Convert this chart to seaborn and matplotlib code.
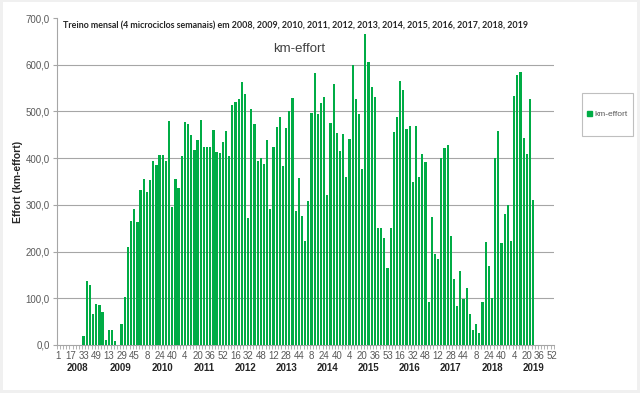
# Treino mensal - km-effort per 4-week block, 2008-2019
import numpy as np
import pandas as pd
import matplotlib
matplotlib.use("Agg")
import matplotlib.pyplot as plt
import seaborn as sns
from matplotlib.patches import Patch, Rectangle

# ---------- DATA ----------
years = [2008, 2009, 2010, 2011, 2012, 2013, 2014, 2015, 2016, 2017, 2018, 2019]

weeks_2008 = [1, 5, 9, 13, 17, 21, 25, 29, 33, 37, 41, 45, 49]
weeks_2009 = [1, 5, 9, 13, 17, 21, 25, 29, 33, 37, 41, 45, 49, 53]
weeks_2015 = [4, 8, 12, 16, 20, 24, 28, 32, 36, 40, 44, 48, 53]
weeks_std = [4, 8, 12, 16, 20, 24, 28, 32, 36, 40, 44, 48, 52]

effort_2008 = [0, 0, 0, 0, 0, 0, 0, 0, 19, 136, 129, 66, 87]
effort_2009 = [86, 70, 10, 32, 32, 9, 0, 46, 103, 209, 266, 291, 264, 332]
effort_2010 = [356, 328, 353, 393, 386, 407, 407, 394, 480, 296, 355, 336, 405]
effort_2011 = [478, 474, 450, 418, 438, 482, 424, 423, 424, 461, 414, 412, 434]
effort_2012 = [459, 405, 513, 521, 526, 563, 538, 271, 506, 474, 393, 400, 388]
effort_2013 = [439, 291, 424, 466, 489, 384, 464, 500, 529, 286, 357, 276, 223]
effort_2014 = [309, 496, 582, 495, 519, 530, 321, 475, 559, 454, 416, 452, 359]
effort_2015 = [441, 600, 526, 494, 376, 666, 606, 552, 531, 251, 251, 229, 164]
effort_2016 = [250, 455, 489, 566, 546, 462, 469, 350, 468, 359, 409, 391, 91]
effort_2017 = [275, 194, 184, 401, 421, 429, 234, 141, 84, 159, 99, 122, 67]
effort_2018 = [32, 44, 26, 93, 221, 169, 100, 400, 459, 218, 280, 300, 223]
effort_2019 = [534, 577, 584, 443, 409, 526, 310, 0, 0, 0, 0, 0, 0]

week_lists = [weeks_2008, weeks_2009] + [weeks_std] * 5 + [weeks_2015] + [weeks_std] * 4
effort_lists = [effort_2008, effort_2009, effort_2010, effort_2011, effort_2012,
                effort_2013, effort_2014, effort_2015, effort_2016, effort_2017,
                effort_2018, effort_2019]

rows = []
for yr, wk, ef in zip(years, week_lists, effort_lists):
    for w, v in zip(wk, ef):
        rows.append({"cat": f"{yr}-{w}", "year": yr, "week": w, "effort": v})
df = pd.DataFrame(rows)

BAR_COLOR = "#00AC45"

# ---------- PLOT ----------
sns.set_theme(style="white")
plt.rcParams["font.family"] = ["Liberation Sans", "DejaVu Sans"]

fig = plt.figure(figsize=(6.4, 3.93), dpi=100)
fig.patch.set_facecolor("#f0f0f0")
fig.add_artist(Rectangle((3 / 640, 3 / 393), 634 / 640, 388 / 393,
                         transform=fig.transFigure, facecolor="white",
                         edgecolor="none", zorder=-10))

ax = fig.add_axes([56.7 / 640, 1 - 345 / 393, 497 / 640, 327 / 393])
ax.set_facecolor("none")

sns.barplot(data=df, x="cat", y="effort", color=BAR_COLOR, saturation=1,
            width=0.7, linewidth=0, ax=ax, zorder=3)
for p in ax.patches:
    p.set_antialiased(False)

n = len(df)
ax.set_xlim(-0.5, n - 0.5)
ax.set_ylim(0, 700)

# y axis
ax.set_yticks(np.arange(0, 701, 100))
ax.set_yticklabels([f"{v:.1f}".replace(".", ",") for v in np.arange(0, 701, 100)],
                   fontsize=7, color="#595959")
for v in range(100, 700, 100):
    ax.axhline(v, color="#a6a6a6", linewidth=0.8, zorder=1)
ax.tick_params(axis="y", length=3, width=0.8, color="#a6a6a6", pad=2, left=True)

# x axis: label every 4th block, tick marks between blocks
ax.set_xticks(np.arange(0, n, 4))
ax.set_xticklabels([str(w) for w in df["week"].values[::4]],
                   fontsize=7, color="#595959")
ax.set_xticks(np.arange(-0.5, n, 1), minor=True)
ax.tick_params(axis="x", which="major", length=0, pad=4)
ax.tick_params(axis="x", which="minor", length=3, width=0.6, color="#a6a6a6",
               bottom=True)
ax.set_xlabel("")
ax.set_ylabel("Effort (km-effort)", fontsize=7.5, fontweight="bold", labelpad=1.5)

for s in ["top", "right"]:
    ax.spines[s].set_visible(False)
for s in ["left", "bottom"]:
    ax.spines[s].set_color("#a6a6a6")
    ax.spines[s].set_linewidth(0.8)

# year group labels
pos = 0
for yr, wk in zip(years, week_lists):
    center = pos + (len(wk) - 1) / 2
    ax.text(center, -0.07, str(yr), transform=ax.get_xaxis_transform(),
            ha="center", va="center", fontsize=7, fontweight="bold")
    pos += len(wk)

# titles
ax.text(0.012, 0.975,
        "Treino mensal (4 microciclos semanais) em " + ", ".join(str(y) for y in years),
        transform=ax.transAxes, ha="left", va="center", fontsize=6.4,
        fontweight="bold", family=["Lato", "DejaVu Sans"])
ax.text(0.488, 0.905, "km-effort", transform=ax.transAxes, ha="center",
        va="center", fontsize=9.5, color="#404040")

# legend
fig.add_artist(Rectangle((582 / 640, 1 - 136 / 393), 51 / 640, 43 / 393,
                         transform=fig.transFigure, fill=False,
                         edgecolor="#bfbfbf", linewidth=0.8))
fig.legend(handles=[Patch(color=BAR_COLOR, label="km-effort")], loc="center",
           bbox_to_anchor=(607.5 / 640, 1 - 114.5 / 393), frameon=False,
           fontsize=6, handlelength=0.6, handleheight=0.6, handletextpad=0.3,
           labelcolor="#595959")

fig.savefig("out.png", dpi=100, facecolor=fig.get_facecolor())
